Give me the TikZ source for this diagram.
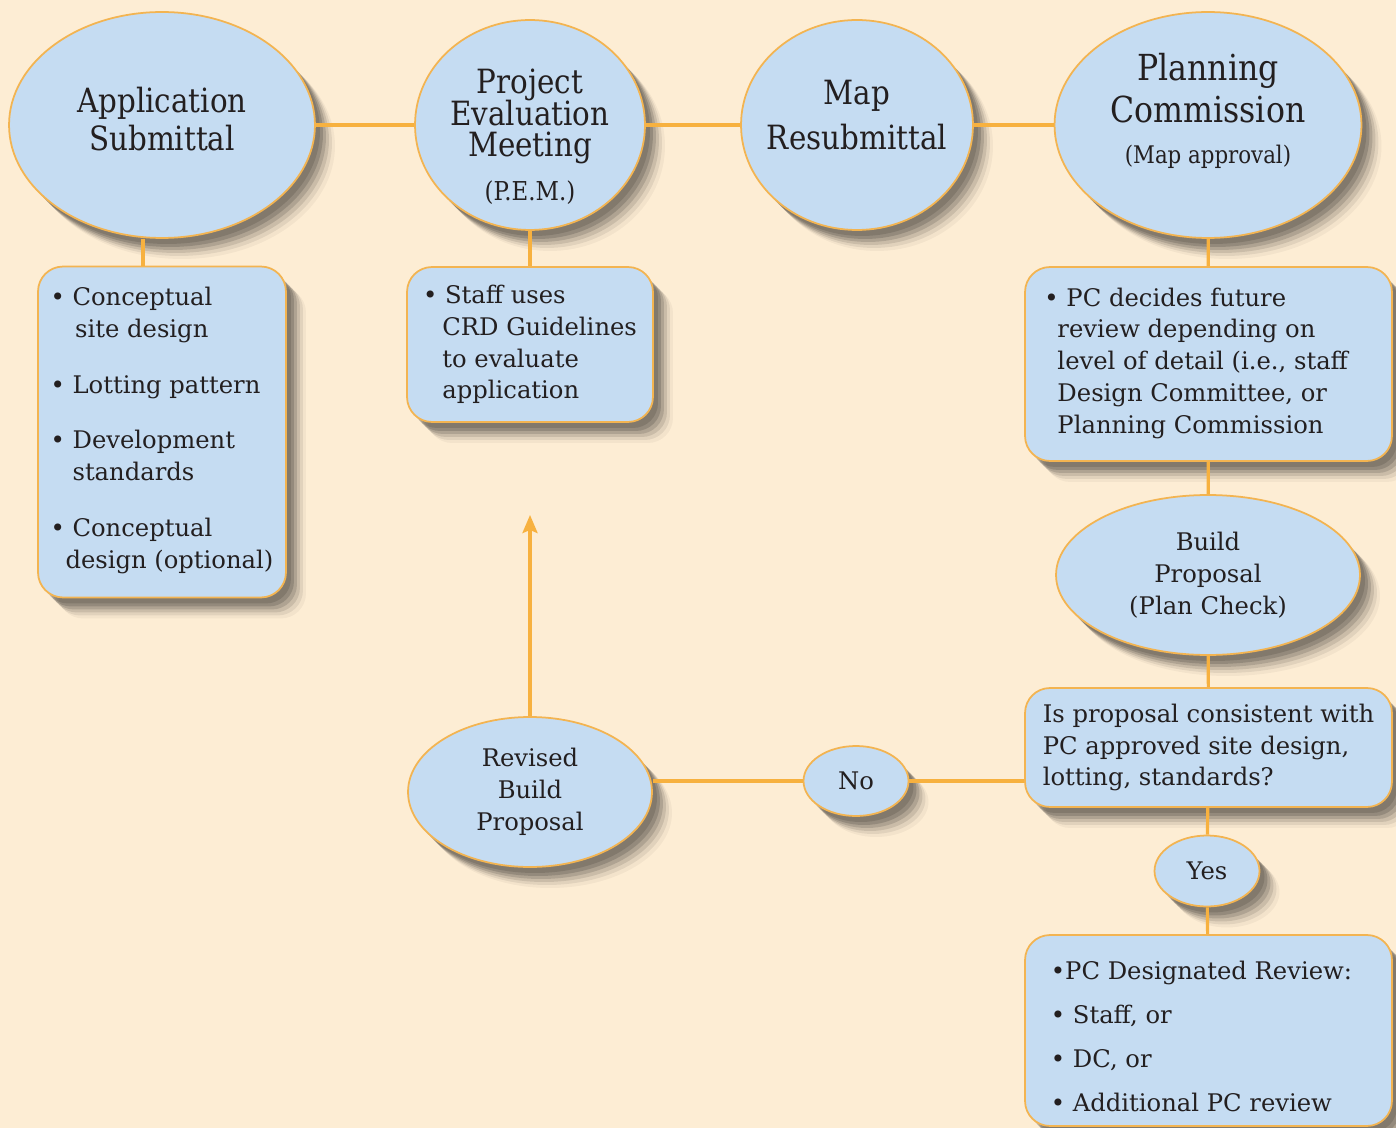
\documentclass[tikz,border=0pt]{standalone}
\usepackage{fontspec}
\setmainfont{DejaVu Serif}
\newfontfamily\headfont{DejaVu Serif}[FakeStretch=0.88]
\usetikzlibrary{positioning, shapes.geometric, arrows.meta, shadows}

\definecolor{bgcream}{HTML}{FDEDD4}
\definecolor{ovalblue}{HTML}{C5DCF2}
\definecolor{lineorange}{HTML}{F7B13F}
\definecolor{edgeorange}{HTML}{F3B451}
\definecolor{inkgray}{HTML}{231F20}

\newcommand{\contline}[1]{\hspace*{#1}}
\newcommand{\ovalnote}[1]{\headfont\fontsize{#1}{15pt}\selectfont}

\begin{document}
\lineskiplimit=-10pt
\begin{tikzpicture}[
        x=0.02cm, y=-0.02cm,
        shadowed/.style={
            drop shadow={shadow xshift=0.40cm, shadow yshift=-0.42cm, fill=black, opacity=0.04},
            drop shadow={shadow xshift=0.34cm, shadow yshift=-0.36cm, fill=black, opacity=0.07},
            drop shadow={shadow xshift=0.28cm, shadow yshift=-0.30cm, fill=black, opacity=0.1},
            drop shadow={shadow xshift=0.22cm, shadow yshift=-0.24cm, fill=black, opacity=0.13},
            drop shadow={shadow xshift=0.16cm, shadow yshift=-0.18cm, fill=black, opacity=0.15},
            drop shadow={shadow xshift=0.10cm, shadow yshift=-0.12cm, fill=black, opacity=0.12}},
        oval/.style={ellipse, draw=edgeorange, line width=1pt, fill=ovalblue, text=inkgray, align=center, inner sep=0pt, shadowed},
        box/.style={rectangle, rounded corners=0.5cm, draw=edgeorange, line width=1pt, fill=ovalblue, text=inkgray, align=left, inner sep=0pt, shadowed},
        headtext/.style={align=center, text=inkgray, inner sep=0pt, font=\headfont\fontsize{19pt}{21.5pt}\selectfont},
        body/.style={font=\fontsize{13.8pt}{18.1pt}\selectfont},
        link/.style={draw=lineorange, line width=1.8pt},
        arrow/.style={link, -{Stealth[length=0.36cm, width=0.3cm, inset=0.06cm]}}
        ]

        \fill[bgcream] (0,0) rectangle (1396,1128);
        \useasboundingbox (0,0) rectangle (1396,1128);

        % top row
        \node[oval, minimum width=6.12cm, minimum height=4.52cm,
            label={[name=appsubtext, headtext, yshift=0.12cm]center:{Application\\Submittal}}] (appsub) at (162,125) {};
        \node[oval, minimum width=4.6cm, minimum height=4.2cm,
            label={[name=pemtext, headtext, font=\headfont\fontsize{19pt}{18pt}\selectfont, yshift=-0.24cm]center:{Project\\Evaluation\\Meeting\\[7pt]{\ovalnote{14.8pt}(P.E.M.)}}}] (pem) at (530,125) {};
        \node[oval, minimum width=4.64cm, minimum height=4.2cm,
            label={[name=mapretext, headtext, font=\headfont\fontsize{19pt}{25.5pt}\selectfont, yshift=0.2cm]center:{Map\\Resubmittal}}] (mapre) at (857,125) {};
        \node[oval, minimum width=6.14cm, minimum height=4.52cm,
            label={[name=plancomtext, headtext, font=\headfont\fontsize{20.4pt}{23.5pt}\selectfont, yshift=0.28cm]center:{Planning\\Commission\\[0pt]{\ovalnote{13.8pt}(Map approval)}}}] (plancom) at (1208,125) {};

        % notes under the top row
        \node[box, body, minimum width=4.96cm, minimum height=6.62cm] (concept) at (162,432) {• Conceptual\\\contline{14pt}site design\\[13.6pt]• Lotting pattern\\[13.6pt]• Development\\\contline{12.5pt}standards\\[13.6pt]• Conceptual\\\contline{8.5pt}design (optional)\rule[-5pt]{0pt}{0pt}};
        \node[box, body, minimum width=4.92cm, minimum height=3.1cm] (staff) at (530,344.5) {• Staff uses\\\contline{11pt}CRD Guidelines\\\contline{11pt}to evaluate\\\contline{11pt}application};
        \node[box, body, minimum width=7.34cm, minimum height=3.88cm] (pcreview) at (1208.5,364) {• PC decides future\\\contline{7.4pt}review depending on\\\contline{7.4pt}level of detail (i.e., staff\rule{14pt}{0pt}\\\contline{7.4pt}Design Committee, or\\\contline{7.4pt}Planning Commission\rule[-4pt]{0pt}{0pt}};

        % plan check branch
        \node[oval, body, minimum width=6.08cm, minimum height=3.2cm] (build) at (1208,575) {Build\\Proposal\\(Plan Check)};
        \node[box, body, minimum width=7.34cm, minimum height=2.38cm] (consistent) at (1208.5,747.5) {Is proposal consistent with\\PC approved site design,\\lotting, standards?};
        \node[oval, body, minimum width=2.1cm, minimum height=1.4cm] (no) at (856,781) {No};
        \node[oval, body, minimum width=4.88cm, minimum height=3cm] (revised) at (530,792) {Revised\\Build\\Proposal};
        \node[oval, body, minimum width=2.1cm, minimum height=1.42cm] (yes) at (1207,871) {Yes};
        \node[box, body, font=\fontsize{13.8pt}{25pt}\selectfont, minimum width=7.34cm, minimum height=3.82cm] (designated) at (1208.5,1030.5) {\rule{0pt}{17.6pt}•PC Designated Review:\rule{8pt}{0pt}\\• Staff, or\\• DC, or\\• Additional PC review};
        \coordinate (loopback) at (530,515);

        \draw[link] (appsub) -- (pem);
        \draw[link] (pem) -- (mapre);
        \draw[link] (mapre) -- (plancom);
        \draw[link] ([xshift=-0.38cm]appsub.south) -- ([xshift=-0.38cm]appsub.south |- concept.north);
        \draw[link] (pem) -- (staff);
        \draw[link] (plancom) -- (pcreview);
        \draw[link] (pcreview) -- (build);
        \draw[link] (build) -- (consistent);
        \draw[link] (consistent) -- (yes);
        \draw[link] (yes) -- (designated);
        \draw[link] (no.east) -- (no.east -| consistent.west);
        \draw[link] (no.west) -- (no.west -| revised.east);
        \draw[arrow] (revised) -- (loopback);
    \end{tikzpicture}
\end{document}
